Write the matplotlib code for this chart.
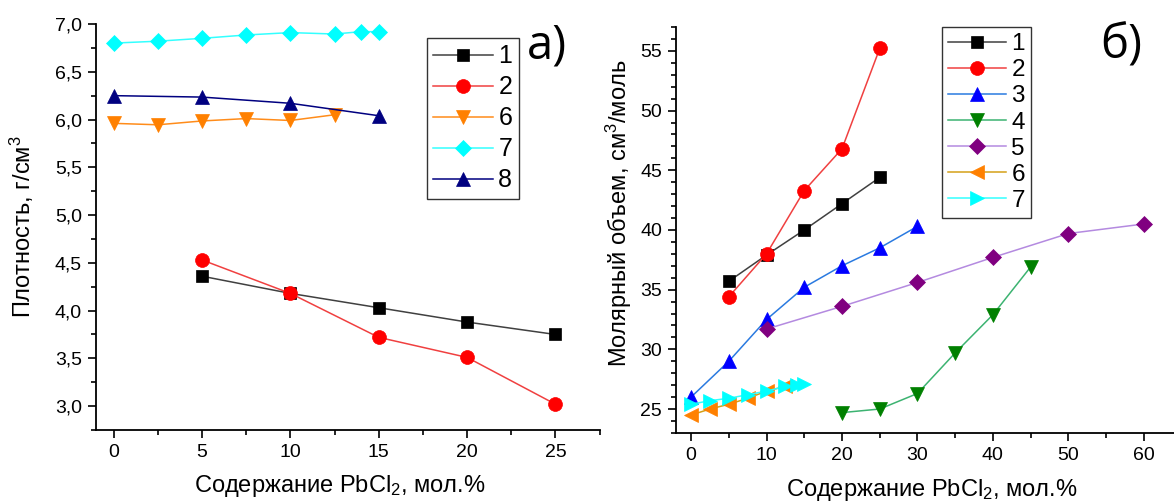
import matplotlib
matplotlib.use("Agg")
import matplotlib.pyplot as plt
from matplotlib.ticker import MultipleLocator, FuncFormatter

plt.rcParams['font.family'] = ['Liberation Sans', 'DejaVu Sans']
plt.rcParams['mathtext.fontset'] = 'custom'
plt.rcParams['mathtext.rm'] = 'Liberation Sans'
plt.rcParams['mathtext.it'] = 'Liberation Sans:italic'

# ---------------- Panel a) density ----------------
a_x1 = [5, 10, 15, 20, 25]
a_y1 = [4.36, 4.18, 4.03, 3.88, 3.75]
a_x2 = [5, 10, 15, 20, 25]
a_y2 = [4.53, 4.18, 3.72, 3.51, 3.02]
a_x6 = [0, 2.5, 5, 7.5, 10, 12.5]
a_y6 = [5.96, 5.945, 5.985, 6.01, 5.99, 6.05]
a_x7 = [0, 2.5, 5, 7.5, 10, 12.5, 14, 15]
a_y7 = [6.80, 6.82, 6.85, 6.885, 6.91, 6.895, 6.92, 6.92]
a_x8 = [0, 5, 10, 15]
a_y8 = [6.25, 6.235, 6.17, 6.04]

# ---------------- Panel б) molar volume ----------------
b_x1 = [5, 10, 15, 20, 25]
b_y1 = [35.7, 37.9, 40.0, 42.2, 44.4]
b_x2 = [5, 10, 15, 20, 25]
b_y2 = [34.4, 38.0, 43.3, 46.8, 55.2]
b_x3 = [0, 5, 10, 15, 20, 25, 30]
b_y3 = [26.0, 29.0, 32.5, 35.2, 37.0, 38.5, 40.3]
b_x4 = [20, 25, 30, 35, 40, 45]
b_y4 = [24.7, 25.0, 26.3, 29.7, 32.9, 36.9]
b_x5 = [10, 20, 30, 40, 50, 60]
b_y5 = [31.7, 33.6, 35.6, 37.7, 39.7, 40.5]
b_x6 = [0, 2.5, 5, 7.5, 10, 12.5]
b_y6 = [24.5, 25.0, 25.4, 25.9, 26.5, 26.9]
b_x7 = [0, 2.5, 5, 7.5, 10, 12.5, 14, 15]
b_y7 = [25.4, 25.7, 25.9, 26.2, 26.5, 26.9, 27.0, 27.1]

W, H = 1174, 504
fig = plt.figure(figsize=(W / 100, H / 100), dpi=100)

axA = fig.add_axes([96 / W, 1 - 430 / H, 503.6 / W, 406 / H])
axB = fig.add_axes([676 / W, 1 - 432.9 / H, 498 / W, 405.9 / H])

LW = 1.1


def series(ax, x, y, marker, mcolor, lcolor, label, ms):
    ax.plot(x, y, color=lcolor, lw=LW, marker=marker, ms=ms,
            markerfacecolor=mcolor, markeredgecolor=mcolor,
            markeredgewidth=0.5, label=label, clip_on=False, zorder=3)


# panel a
series(axA, a_x1, a_y1, 's', '#000000', '#404040', '1', 9)
series(axA, a_x2, a_y2, 'o', '#ff0000', '#f04040', '2', 10)
series(axA, a_x6, a_y6, 'v', '#ff8000', '#ff8c1a', '6', 10.5)
series(axA, a_x7, a_y7, 'D', '#00ffff', '#33ffff', '7', 8.5)
series(axA, a_x8, a_y8, '^', '#000080', '#000080', '8', 10.5)

# panel b
series(axB, b_x1, b_y1, 's', '#000000', '#404040', '1', 9)
series(axB, b_x2, b_y2, 'o', '#ff0000', '#f04040', '2', 10)
series(axB, b_x3, b_y3, '^', '#0000ff', '#2a7ae0', '3', 10.5)
series(axB, b_x4, b_y4, 'v', '#008000', '#3cb371', '4', 10.5)
series(axB, b_x5, b_y5, 'D', '#800080', '#b48ae0', '5', 8.5)
series(axB, b_x6, b_y6, '<', '#ff8000', '#d4a017', '6', 10.5)
series(axB, b_x7, b_y7, '>', '#00ffff', '#33ffff', '7', 10.5)

comma = FuncFormatter(lambda v, p: f"{v:.1f}".replace('.', ','))

for ax in (axA, axB):
    for s in ('top', 'right'):
        ax.spines[s].set_visible(False)
    for s in ('left', 'bottom'):
        ax.spines[s].set_linewidth(1.3)
    ax.tick_params(which='major', direction='out', length=6, width=1.2,
                   labelsize=14, pad=4)
    ax.tick_params(which='minor', direction='out', length=3.5, width=1.2)

axA.set_xlim(-1, 27.5)
axA.set_ylim(2.75, 7.0)
axA.xaxis.set_major_locator(MultipleLocator(5))
axA.xaxis.set_minor_locator(MultipleLocator(2.5))
axA.yaxis.set_major_locator(MultipleLocator(0.5))
axA.yaxis.set_minor_locator(MultipleLocator(0.25))
axA.yaxis.set_major_formatter(comma)

axB.set_xlim(-2, 64)
axB.set_ylim(23, 57)
axB.xaxis.set_major_locator(MultipleLocator(10))
axB.xaxis.set_minor_locator(MultipleLocator(5))
axB.yaxis.set_major_locator(MultipleLocator(5))
axB.yaxis.set_minor_locator(MultipleLocator(1))

xlab = 'Содержание PbCl$_2$, мол.%'
fig.text(340 / W, 1 - 486 / H, xlab, fontsize=17, ha='center', va='center')
fig.text(932 / W, 1 - 490 / H, xlab, fontsize=17, ha='center', va='center')
fig.text(22 / W, 1 - 227 / H, 'Плотность, г/см$^3$', fontsize=17,
         rotation=90, ha='center', va='center')
fig.text(619 / W, 1 - 213 / H, 'Молярный объем, см$^3$/моль', fontsize=17,
         rotation=90, ha='center', va='center')

fig.text(527 / W, 1 - 58 / H, 'а)', fontsize=34, ha='left', va='baseline',
         family=['Open Sans', 'DejaVu Sans'])
fig.text(1100 / W, 1 - 58 / H, 'б)', fontsize=34, ha='left', va='baseline',
         family=['Open Sans', 'DejaVu Sans'])

legA = axA.legend(loc='upper left', bbox_to_anchor=(427 / W, 1 - 38 / H),
                  bbox_transform=fig.transFigure, fontsize=18, frameon=True,
                  fancybox=False, edgecolor='#333333', framealpha=1,
                  handlelength=2.4, handletextpad=0.2, labelspacing=0.28,
                  borderpad=0.25, borderaxespad=0, markerscale=1.0)
legA.get_frame().set_linewidth(1.0)
legB = axB.legend(loc='upper left', bbox_to_anchor=(942 / W, 1 - 27 / H),
                  bbox_transform=fig.transFigure, fontsize=17.5, frameon=True,
                  fancybox=False, edgecolor='#333333', framealpha=1,
                  handlelength=2.4, handletextpad=0.2, labelspacing=0.17,
                  borderpad=0.25, borderaxespad=0, markerscale=1.0)
legB.get_frame().set_linewidth(1.0)

fig.savefig('out.png', dpi=100)
